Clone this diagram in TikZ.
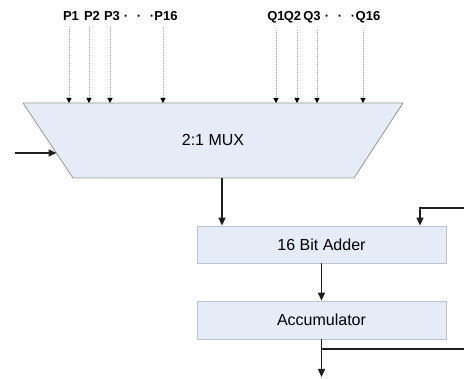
\documentclass[tikz,border=0pt]{standalone}
\usepackage{fontspec}
\setmainfont{Liberation Sans}
\usetikzlibrary{arrows.meta}
\definecolor{boxfill}{RGB}{229,235,247}
\definecolor{boxline}{RGB}{185,195,210}
\definecolor{muxline}{RGB}{150,150,150}
\definecolor{wirecol}{RGB}{30,30,30}
\definecolor{dotcol}{RGB}{165,165,165}

\begin{document}
\begin{tikzpicture}[x=1pt,y=-1pt,
  buslabel/.style={font=\bfseries\fontsize{13}{14}\selectfont, inner sep=0pt, anchor=base},
  blocktext/.style={font=\fontsize{16}{18}\selectfont, inner sep=0pt},
  block/.style={draw=boxline, fill=boxfill, line width=0.8pt, minimum width=249pt,
    minimum height=37pt, inner sep=0pt, font=\fontsize{16}{18}\selectfont},
  wire/.style={draw=wirecol, line width=1.4pt},
  wirearrow/.style={wire, -{Triangle[length=8pt,width=7pt]}},
  busarrow/.style={draw=dotcol, line width=0.5pt, dash pattern=on 1pt off 1pt,
    -{Triangle[length=5pt,width=5pt,color=black]}}
]
\useasboundingbox (0,0) rectangle (464,379);

% multiplexer body
\filldraw[draw=muxline, fill=boxfill, line width=0.8pt]
  (23,103) coordinate (mtl) -- (403,103) coordinate (mtr)
  -- (354,178) coordinate (mbr) -- (73,178) coordinate (mbl) -- cycle;
\node[blocktext] (mux) at (213,140) {2:1 MUX};

% select input on the left slanted edge
\coordinate (selin) at (15,153);
\coordinate (selend) at (56.5,153);
\draw[wirearrow] (selin) -- (selend);

% P operand labels
\node[buslabel] (p1) at (71,21) {P1};
\node[buslabel] (p2) at (92,21) {P2};
\node[buslabel] (p3) at (112,21) {P3};
\node[buslabel] (pd1) at (126,21) {·};
\node[buslabel] (pd2) at (139,21) {·};
\node[buslabel] (pd3) at (152,21) {·};
\node[buslabel] (p16) at (166,21) {P16};

% Q operand labels
\node[buslabel] (q1) at (276,21) {Q1};
\node[buslabel] (q2) at (292.5,21) {Q2};
\node[buslabel] (q3) at (312,21) {Q3};
\node[buslabel] (qd1) at (327,21) {·};
\node[buslabel] (qd2) at (340,21) {·};
\node[buslabel] (qd3) at (353,21) {·};
\node[buslabel] (q16) at (368,21) {Q16};

% bus entry points on the multiplexer top
\coordinate (p1in) at (69,103);
\coordinate (p2in) at (89,103);
\coordinate (p3in) at (110,103);
\coordinate (p16in) at (163,103);
\coordinate (q1in) at (276,103);
\coordinate (q2in) at (297,103);
\coordinate (q3in) at (317,103);
\coordinate (q16in) at (363,103);

\foreach \l in {p1,p2,p3,p16,q1,q2,q3,q16}
  \draw[busarrow] ([yshift=-6pt]\l in |- \l.south) -- (\l in);

% adder and accumulator
\node[block] (adder) at (321.5,244.5) {16 Bit Adder};
\node[block, minimum height=38pt] (acc) at (321.5,320) {Accumulator};

\coordinate (muxout) at (222,178);
\draw[wirearrow] (muxout) -- (muxout |- adder.north);
\draw[wirearrow] (adder) -- (acc);

% result output and feedback
\coordinate (out) at (321.5,377);
\draw[wirearrow] (acc.south) -- (out);
\coordinate (tap) at (321.5,349);
\coordinate (fbout) at (464,349);
\draw[wire] (tap) -- (fbout);

\coordinate (fbin) at (464,208);
\coordinate (fbcorner) at (420,208);
\draw[wirearrow] (fbin) -- (fbcorner) -- (fbcorner |- adder.north);
\end{tikzpicture}
\end{document}
